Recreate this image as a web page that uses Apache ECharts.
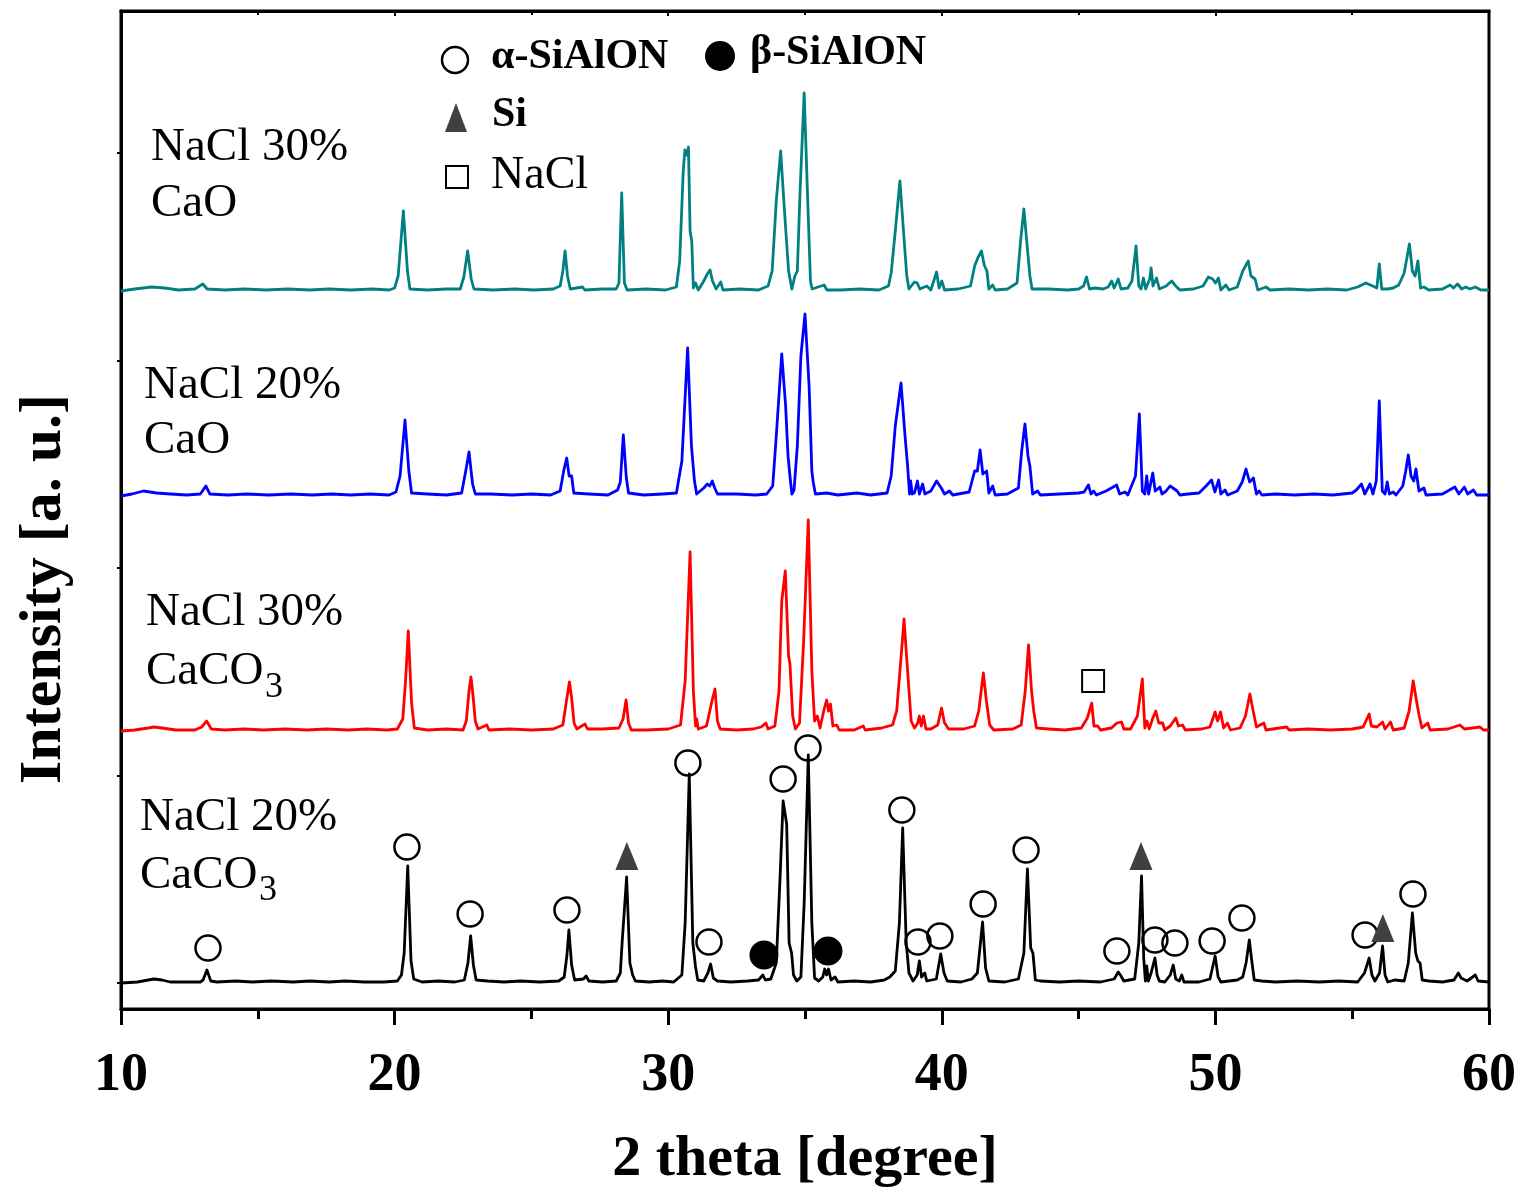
<!DOCTYPE html>
<html>
<head>
<meta charset="utf-8">
<title>XRD patterns</title>
<script src="https://cdn.jsdelivr.net/npm/echarts@6/dist/echarts.min.js"></script>
<style>
  html, body { margin: 0; padding: 0; background: #fff; }
  #chart { width: 1524px; height: 1195px; }
</style>
</head>
<body>
<div id="chart"></div>
<script>
// x = 2 theta [degree], y = intensity above each pattern's own baseline (a. u.)
const xTicks = [10, 20, 30, 40, 50, 60];

const cacoNacl20 = [
  [10.0,0],[10.6,1],[11.0,3],[11.2,4],[11.5,3],[11.8,1],[12.3,1],[12.9,1],[13.0,3],[13.14,13],[13.28,2],[13.5,1],[14.2,2],[14.8,1],[15.5,2],[16.3,1],[16.9,2],[17.6,1],[18.2,2],[18.9,1],[19.6,1],[20.1,2],[20.25,8],[20.35,30],[20.48,117],[20.6,22],[20.7,4],[21.0,1],[21.6,2],[22.2,1],[22.55,3],[22.68,20],[22.78,47],[22.88,18],[22.98,3],[23.4,2],[24.0,1],[24.6,2],[25.3,1],[26.0,2],[26.2,6],[26.3,28],[26.37,53],[26.47,18],[26.58,3],[26.9,4],[27.0,7],[27.1,2],[27.6,1],[28.1,2],[28.25,10],[28.32,42],[28.48,106],[28.6,20],[28.7,8],[28.8,2],[29.3,1],[29.8,2],[30.2,1],[30.5,8],[30.62,60],[30.77,209],[30.9,40],[31.0,16],[31.08,3],[31.3,2],[31.45,10],[31.55,19],[31.65,5],[31.8,2],[32.3,1],[32.9,2],[33.3,3],[33.46,8],[33.55,3],[33.75,4],[33.95,20],[34.08,100],[34.2,182],[34.33,159],[34.42,40],[34.51,30],[34.58,8],[34.7,2],[34.85,6],[34.97,80],[35.12,228],[35.25,60],[35.35,5],[35.5,2],[35.65,6],[35.72,14],[35.79,8],[35.86,14],[35.95,3],[36.1,6],[36.2,1],[36.8,2],[37.4,1],[37.9,3],[38.1,6],[38.3,12],[38.45,60],[38.57,155],[38.7,40],[38.8,10],[38.95,2],[39.1,8],[39.18,22],[39.26,6],[39.38,10],[39.45,2],[39.8,4],[39.96,29],[40.08,10],[40.2,2],[40.7,1],[41.1,4],[41.3,10],[41.49,61],[41.6,15],[41.72,2],[42.3,1],[42.8,4],[43.0,30],[43.13,114],[43.25,35],[43.33,30],[43.42,3],[43.6,2],[44.3,1],[45.0,2],[45.8,1],[46.3,4],[46.45,11],[46.55,7],[46.65,2],[47.05,4],[47.2,40],[47.3,107],[47.38,25],[47.44,2],[47.49,17],[47.55,2],[47.65,10],[47.79,25],[47.87,8],[47.95,2],[48.15,1],[48.35,8],[48.46,18],[48.55,4],[48.68,2],[48.77,8],[48.85,1],[49.4,1],[49.8,4],[49.99,27],[50.1,6],[50.2,1],[50.8,3],[51.0,6],[51.12,20],[51.24,43],[51.33,22],[51.42,3],[51.7,2],[52.2,1],[53.0,2],[53.8,1],[54.5,2],[55.2,1],[55.45,10],[55.62,25],[55.72,8],[55.83,2],[56.0,10],[56.11,37],[56.2,8],[56.3,1],[56.55,3],[56.9,2],[57.05,20],[57.2,70],[57.32,30],[57.4,22],[57.48,20],[57.56,3],[57.8,2],[58.3,1],[58.72,3],[58.88,10],[58.98,5],[59.2,2],[59.5,8],[59.6,2],[60.0,1]
];

const cacoNacl30 = [
  [10.0,0],[10.5,1],[11.0,3],[11.2,4],[11.5,3],[12.0,1],[12.7,1],[12.95,4],[13.13,10],[13.3,2],[13.8,1],[14.5,2],[15.2,1],[16.0,2],[16.8,1],[17.5,2],[18.3,1],[19.0,2],[19.7,1],[20.1,2],[20.3,12],[20.4,50],[20.5,100],[20.62,28],[20.72,3],[21.2,1],[21.9,2],[22.5,1],[22.62,10],[22.72,40],[22.79,54],[22.85,40],[22.95,10],[23.05,2],[23.37,6],[23.45,1],[24.2,2],[25.0,1],[25.8,2],[26.15,6],[26.28,30],[26.39,49],[26.47,33],[26.56,8],[26.66,2],[26.96,7],[27.05,2],[27.6,2],[28.2,3],[28.35,12],[28.46,31],[28.55,8],[28.65,1],[29.2,1],[30.0,2],[30.45,6],[30.62,50],[30.8,179],[30.92,40],[31.0,5],[31.04,12],[31.1,2],[31.4,5],[31.6,30],[31.71,42],[31.8,10],[31.9,2],[32.5,1],[33.1,2],[33.4,4],[33.57,8],[33.65,2],[33.9,5],[34.05,40],[34.15,130],[34.28,160],[34.4,75],[34.45,67],[34.55,15],[34.65,2],[34.8,8],[34.95,90],[35.12,211],[35.25,60],[35.35,10],[35.45,15],[35.55,3],[35.7,22],[35.79,31],[35.86,20],[35.93,27],[36.02,5],[36.16,6],[36.25,1],[36.8,1],[37.13,5],[37.2,1],[37.8,3],[38.2,6],[38.35,20],[38.5,70],[38.62,112],[38.75,60],[38.88,10],[39.0,3],[39.12,8],[39.18,15],[39.25,5],[39.33,15],[39.42,2],[39.6,2],[39.85,6],[39.99,23],[40.1,8],[40.25,2],[40.8,2],[41.2,5],[41.35,20],[41.52,58],[41.63,30],[41.75,6],[41.9,1],[42.6,2],[42.9,6],[43.05,40],[43.17,86],[43.28,40],[43.36,20],[43.46,3],[43.9,2],[44.5,1],[45.1,3],[45.32,13],[45.48,28],[45.56,5],[45.7,5],[45.8,1],[46.2,3],[46.4,8],[46.57,9],[46.65,2],[46.9,2],[47.15,15],[47.33,52],[47.42,3],[47.5,10],[47.58,2],[47.7,12],[47.82,20],[47.93,8],[48.07,8],[48.15,1],[48.35,5],[48.55,13],[48.65,5],[48.8,6],[48.9,1],[49.5,2],[49.8,4],[49.99,19],[50.08,10],[50.19,19],[50.3,3],[50.44,8],[50.55,1],[50.9,3],[51.1,15],[51.26,37],[51.38,20],[51.5,4],[51.77,8],[51.85,1],[52.6,4],[52.7,1],[53.4,2],[54.2,1],[55.0,2],[55.4,4],[55.62,17],[55.7,5],[55.9,4],[56.11,9],[56.2,2],[56.4,9],[56.5,1],[56.9,3],[57.08,20],[57.23,50],[57.35,30],[57.45,15],[57.55,3],[57.76,8],[57.85,1],[58.5,2],[58.94,6],[59.1,2],[59.67,4],[59.8,1],[60.0,1]
];

const caoNacl20 = [
  [10.0,0],[10.4,2],[10.82,5],[11.3,3],[11.8,2],[12.4,1],[12.9,2],[13.1,10],[13.25,2],[13.9,1],[14.6,2],[15.4,1],[16.2,2],[17.0,1],[17.7,2],[18.4,1],[19.1,2],[19.8,1],[20.05,4],[20.2,20],[20.38,76],[20.52,25],[20.62,3],[21.2,2],[21.9,1],[22.45,3],[22.6,25],[22.72,44],[22.85,12],[22.95,2],[23.5,2],[24.3,1],[25.0,2],[25.7,1],[26.05,5],[26.18,25],[26.29,38],[26.38,20],[26.47,20],[26.55,3],[27.1,2],[27.8,1],[28.15,6],[28.25,14],[28.36,61],[28.47,18],[28.55,3],[29.1,1],[29.8,2],[30.3,3],[30.5,35],[30.71,148],[30.85,50],[30.96,15],[31.04,2],[31.3,8],[31.43,12],[31.52,10],[31.61,15],[31.7,8],[31.8,2],[32.5,2],[33.2,1],[33.6,2],[33.82,10],[33.95,60],[34.15,142],[34.29,91],[34.38,40],[34.45,20],[34.52,2],[34.6,6],[34.72,50],[34.85,140],[35.0,182],[35.15,110],[35.25,25],[35.3,14],[35.38,2],[35.8,3],[36.2,1],[36.9,3],[37.4,1],[38.0,3],[38.15,20],[38.3,70],[38.51,113],[38.65,62],[38.75,30],[38.82,2],[38.86,15],[38.92,2],[39.0,3],[39.11,15],[39.18,2],[39.3,12],[39.38,2],[39.6,5],[39.81,15],[39.98,8],[40.1,2],[40.28,5],[40.4,1],[41.0,4],[41.2,25],[41.3,25],[41.4,46],[41.5,22],[41.64,25],[41.72,3],[41.86,10],[41.95,1],[42.4,2],[42.8,8],[42.92,45],[43.04,72],[43.15,40],[43.22,30],[43.32,2],[43.5,5],[43.6,1],[44.3,2],[45.0,3],[45.2,4],[45.36,11],[45.45,2],[45.55,5],[45.65,1],[46.0,5],[46.2,8],[46.39,11],[46.5,2],[46.7,4],[46.8,1],[47.08,20],[47.22,82],[47.33,5],[47.42,2],[47.49,20],[47.56,2],[47.71,23],[47.8,5],[47.97,9],[48.05,2],[48.2,5],[48.34,10],[48.45,8],[48.6,5],[48.7,1],[49.0,2],[49.4,3],[49.66,10],[49.86,16],[49.98,4],[50.12,16],[50.2,2],[50.35,6],[50.45,1],[50.8,5],[50.98,14],[51.12,27],[51.25,14],[51.39,18],[51.5,2],[51.6,5],[51.7,1],[52.2,2],[52.9,1],[53.6,2],[54.3,1],[55.0,3],[55.15,6],[55.34,12],[55.46,2],[55.65,12],[55.76,2],[55.88,15],[55.99,95],[56.1,5],[56.2,2],[56.28,14],[56.36,2],[56.5,4],[56.6,1],[56.85,10],[56.95,24],[57.05,41],[57.15,20],[57.25,15],[57.33,27],[57.44,5],[57.62,8],[57.7,1],[58.3,2],[58.75,9],[58.9,2],[59.1,9],[59.22,2],[59.43,6],[59.55,1],[60.0,1]
];

const caoNacl30 = [
  [10.0,0],[10.5,2],[11.12,4],[11.6,3],[12.1,1],[12.7,2],[12.99,7],[13.15,2],[13.8,1],[14.5,2],[15.3,1],[16.1,2],[16.9,1],[17.6,2],[18.4,1],[19.2,2],[19.8,1],[20.0,3],[20.13,15],[20.32,80],[20.47,20],[20.56,2],[21.2,1],[21.9,2],[22.4,2],[22.53,14],[22.67,40],[22.8,12],[22.9,2],[23.6,1],[24.4,2],[25.1,1],[25.8,2],[26.05,5],[26.15,20],[26.23,40],[26.32,15],[26.42,2],[26.87,4],[26.95,1],[27.6,2],[28.1,2],[28.2,8],[28.3,98],[28.4,8],[28.5,1],[29.2,2],[29.9,1],[30.3,4],[30.42,30],[30.55,120],[30.61,141],[30.68,136],[30.74,144],[30.8,60],[30.86,50],[30.92,3],[31.0,8],[31.1,1],[31.3,10],[31.45,18],[31.53,21],[31.62,10],[31.75,2],[31.92,9],[32.0,1],[32.6,2],[33.3,1],[33.65,5],[33.8,20],[33.95,90],[34.11,140],[34.25,80],[34.4,20],[34.52,2],[34.63,15],[34.72,20],[34.82,100],[34.97,198],[35.1,90],[35.2,10],[35.26,2],[35.7,6],[35.8,1],[36.3,1],[37.0,2],[37.7,1],[38.05,5],[38.15,18],[38.3,60],[38.47,110],[38.6,60],[38.72,15],[38.8,2],[39.0,9],[39.1,8],[39.2,2],[39.45,5],[39.6,1],[39.81,19],[39.9,3],[40.0,10],[40.1,1],[40.6,2],[41.05,5],[41.2,25],[41.33,34],[41.45,40],[41.55,26],[41.65,20],[41.72,2],[41.86,6],[41.95,1],[42.4,2],[42.75,8],[42.88,50],[43.0,82],[43.12,45],[43.22,15],[43.3,2],[43.9,2],[44.6,1],[45.0,2],[45.18,5],[45.29,14],[45.4,2],[45.6,3],[45.9,2],[46.08,4],[46.21,10],[46.3,3],[46.45,12],[46.55,2],[46.8,3],[46.95,10],[47.1,45],[47.2,5],[47.28,2],[47.37,13],[47.45,2],[47.6,12],[47.65,23],[47.72,5],[47.85,13],[47.95,2],[48.2,5],[48.4,10],[48.55,5],[48.7,1],[49.2,2],[49.55,5],[49.74,14],[49.9,12],[50.0,8],[50.11,13],[50.2,1],[50.38,6],[50.5,1],[50.8,4],[51.0,20],[51.2,30],[51.3,15],[51.45,12],[51.55,1],[51.85,4],[52.0,1],[52.7,2],[53.4,1],[54.1,2],[54.8,1],[55.2,4],[55.5,8],[55.75,5],[55.9,3],[55.99,27],[56.08,2],[56.3,2],[56.5,3],[56.7,6],[56.9,18],[57.09,47],[57.2,20],[57.3,15],[57.4,30],[57.5,3],[57.62,4],[57.8,1],[58.3,2],[58.58,6],[58.7,3],[58.85,7],[59.0,2],[59.15,4],[59.3,2],[59.5,4],[59.7,1],[60.0,1]
];

// phase markers [2 theta, height on the stacked intensity axis]
const alphaSialon = [
  [13.18,35],[20.45,136],[22.76,69],[26.30,73],[30.72,220],[31.49,41],[34.20,204],[35.11,235],
  [38.54,173],[39.13,41],[39.93,47],[41.51,79],[43.08,133],[46.40,32],[47.79,43],[48.52,40],
  [49.88,42],[50.97,65],[55.47,48],[57.22,89]
];
const betaSialon = [[33.50,28],[35.84,32]];
const siPeaks = [[28.49,127],[47.28,127],[56.12,55]];
const naclPeaks = [[45.53,302]];

// vertical shift of each pattern (stacking), bottom to top
const patterns = [
  { name: 'NaCl 20% CaCO3', data: cacoNacl20, shift: 0,   color: '#000000' },
  { name: 'NaCl 30% CaCO3', data: cacoNacl30, shift: 252, color: '#ff0000' },
  { name: 'NaCl 20% CaO',   data: caoNacl20,  shift: 487, color: '#0000ff' },
  { name: 'NaCl 30% CaO',   data: caoNacl30,  shift: 692, color: '#008080' }
];
const yTickValues = [0, 207, 415, 622, 830];

const serif = '"Liberation Serif", "Times New Roman", serif';

const chart = echarts.init(document.getElementById('chart'), null, { renderer: 'canvas' });

const lineSeries = patterns.map(p => ({
  name: p.name,
  type: 'line',
  showSymbol: false,
  symbol: 'none',
  smooth: false,
  data: p.data.map(d => [d[0], d[1] + p.shift]),
  lineStyle: { color: p.color, width: 2.8, join: 'round', opacity: 1 },
  itemStyle: { color: p.color },
  z: 2
}));

const markerSeries = [
  {
    name: 'alpha', type: 'scatter', data: alphaSialon, symbol: 'circle', symbolSize: 25,
    itemStyle: { color: 'rgba(0,0,0,0)', borderColor: '#000', borderWidth: 2.5, opacity: 1 }, z: 5
  },
  {
    name: 'beta', type: 'scatter', data: betaSialon, symbol: 'circle', symbolSize: 29,
    itemStyle: { color: '#000', borderWidth: 0, opacity: 1 }, z: 5
  },
  {
    name: 'Si', type: 'scatter', data: siPeaks, symbol: 'triangle', symbolSize: [23, 28],
    itemStyle: { color: '#404040', opacity: 1 }, z: 5
  },
  {
    name: 'NaCl', type: 'scatter', data: naclPeaks, symbol: 'rect', symbolSize: 22,
    itemStyle: { color: '#fff', borderColor: '#000', borderWidth: 2, opacity: 1 }, z: 5
  }
];

const sampleLabel = (x, y, text) => ({
  type: 'text', x: x, y: y,
  style: { text: text, font: '47px ' + serif, fill: '#000', textVerticalAlign: 'middle' }
});
const subLabel = (x, y) => ({
  type: 'text', x: x, y: y,
  style: { text: '3', font: '36px ' + serif, fill: '#000', textVerticalAlign: 'middle' }
});

const option = {
  animation: false,
  backgroundColor: '#fff',
  grid: {
    left: 121, right: 35, top: 11, bottom: 186,
    show: true, borderColor: '#000', borderWidth: 3, backgroundColor: 'transparent'
  },
  xAxis: [
    {
      type: 'value', min: 10, max: 60, interval: 10, position: 'bottom',
      name: '2 theta [degree]', nameLocation: 'middle', nameGap: 122,
      nameTextStyle: { fontFamily: serif, fontWeight: 'bold', fontSize: 58, color: '#000' },
      axisLine: { show: true, onZero: false, lineStyle: { color: '#000', width: 3 } },
      axisTick: { show: true, inside: false, length: 16, lineStyle: { color: '#000', width: 3 } },
      minorTick: { show: true, splitNumber: 2, length: 10, lineStyle: { color: '#000', width: 3 } },
      axisLabel: {
        margin: 40, fontFamily: serif, fontWeight: 'bold', fontSize: 54, color: '#000',
        formatter: v => (xTicks.indexOf(v) >= 0 ? String(v) : '')
      },
      splitLine: { show: false }, minorSplitLine: { show: false }
    },
    {
      type: 'value', min: 10, max: 60, interval: 10, position: 'top',
      axisLine: { show: true, onZero: false, lineStyle: { color: '#000', width: 3 } },
      axisTick: { show: true, inside: true, length: 5, lineStyle: { color: '#000', width: 2 } },
      minorTick: { show: true, splitNumber: 2, length: 4, lineStyle: { color: '#000', width: 2 } },
      axisLabel: { show: false },
      splitLine: { show: false }
    }
  ],
  yAxis: {
    type: 'value', min: -26, max: 972,
    axisLine: { show: true, onZero: false, lineStyle: { color: '#000', width: 3 } },
    axisTick: { show: true, inside: false, length: 4, customValues: yTickValues, lineStyle: { color: '#000', width: 2 } },
    axisLabel: { show: false },
    splitLine: { show: false }
  },
  series: lineSeries.concat(markerSeries),
  graphic: [
    {
      type: 'text', x: 44, y: 589, rotation: Math.PI / 2,
      style: { text: 'Intensity [a. u.]', font: 'bold 60px ' + serif, fill: '#000', textAlign: 'center', textVerticalAlign: 'middle' }
    },
    sampleLabel(151, 148, 'NaCl 30%'),
    sampleLabel(151, 204, 'CaO'),
    sampleLabel(144, 386, 'NaCl 20%'),
    sampleLabel(144, 441, 'CaO'),
    sampleLabel(146, 613, 'NaCl 30%'),
    sampleLabel(146, 672, 'CaCO'),
    subLabel(265, 688),
    sampleLabel(140, 818, 'NaCl 20%'),
    sampleLabel(140, 876, 'CaCO'),
    subLabel(259, 891),
    // legend
    { type: 'circle', shape: { cx: 455, cy: 60, r: 13 }, style: { fill: 'none', stroke: '#000', lineWidth: 2.5 } },
    { type: 'text', x: 491, y: 57, style: { text: 'α-SiAlON', font: 'bold 42px ' + serif, fill: '#000', textVerticalAlign: 'middle' } },
    { type: 'circle', shape: { cx: 720, cy: 56, r: 15 }, style: { fill: '#000' } },
    { type: 'text', x: 750, y: 53, style: { text: 'β-SiAlON', font: 'bold 42px ' + serif, fill: '#000', textVerticalAlign: 'middle' } },
    { type: 'polygon', shape: { points: [[456, 103], [467, 132], [445, 132]] }, style: { fill: '#404040' } },
    { type: 'text', x: 492, y: 115, style: { text: 'Si', font: 'bold 42px ' + serif, fill: '#000', textVerticalAlign: 'middle' } },
    { type: 'rect', shape: { x: 446, y: 166, width: 22, height: 22 }, style: { fill: '#fff', stroke: '#000', lineWidth: 2 } },
    { type: 'text', x: 491, y: 176, style: { text: 'NaCl', font: '46px ' + serif, fill: '#000', textVerticalAlign: 'middle' } }
  ]
};

chart.setOption(option);
window.addEventListener('resize', chart.resize);
</script>
</body>
</html>
